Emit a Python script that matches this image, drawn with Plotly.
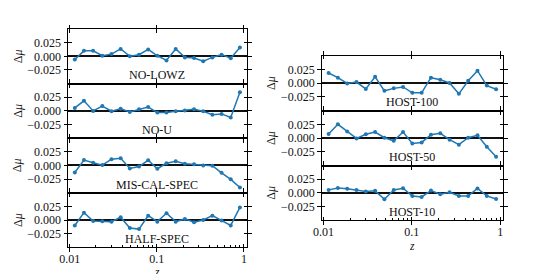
import plotly.graph_objects as go

# ---- data ----
z = [0.01143, 0.01456, 0.01856, 0.02365, 0.03014, 0.03841, 0.04895, 0.06239,
     0.07951, 0.1013, 0.1291, 0.1646, 0.2097, 0.2673, 0.3406, 0.4341, 0.5532,
     0.7050, 0.8984]

no_lowz = [-0.006, 0.010, 0.010, 0.001, 0.004, 0.0135, 0.000, 0.003, 0.0125, 0.001,
           -0.0075, 0.0135, -0.002, -0.003, -0.009, -0.002, 0.003, -0.0035, 0.016]
no_u = [0.0055, 0.0185, 0.000, 0.009, -0.0006, 0.004, -0.002, 0.003, 0.007, -0.003,
        -0.003, -0.0006, 0.0006, 0.003, -0.0006, -0.007, -0.0055, -0.012, 0.034]
mis_cal_spec = [-0.013, 0.010, 0.005, 0.0006, 0.0115, 0.013, -0.0055, -0.002, 0.0095,
                -0.006, 0.004, 0.0075, 0.003, 0.002, 0.000, -0.0005, -0.0135, -0.0255, -0.0405]
half_spec = [-0.010, 0.0135, -0.002, -0.0025, -0.003, 0.005, -0.0148, -0.0167, 0.008,
             -0.003, 0.0123, -0.003, 0.002, -0.004, 0.000, 0.008, -0.001, -0.010, 0.023]
host_100 = [0.0185, 0.010, -0.0005, 0.002, -0.0105, 0.0115, -0.014, -0.0095, -0.007,
            -0.0177, -0.0177, 0.010, 0.0063, 0.0003, -0.0195, 0.0043, 0.0228, -0.0045, -0.011]
host_50 = [0.0075, 0.025, 0.012, -0.0006, 0.007, 0.011, 0.0006, -0.005, 0.011, -0.010,
           -0.008, 0.006, 0.0087, -0.003, -0.012, 0.0006, 0.005, -0.016, -0.034]
host_10 = [0.0055, 0.009, 0.0074, 0.0055, 0.0025, 0.0037, -0.0117, 0.0055, 0.0086,
           -0.0055, -0.0074, 0.0043, -0.0025, 0.0012, -0.0055, -0.0055, 0.008, -0.0055, -0.011]

labels = ["NO-LOWZ", "NO-U", "MIS-CAL-SPEC", "HALF-SPEC", "HOST-100", "HOST-50", "HOST-10"]
series = [no_lowz, no_u, mis_cal_spec, half_spec, host_100, host_50, host_10]

x_tickvals = [0.01, 0.1, 1]
x_ticktext = ["0.01", "0.1", "1"]
x_minorvals = [0.02, 0.03, 0.04, 0.05, 0.06, 0.07, 0.08, 0.09,
               0.2, 0.3, 0.4, 0.5, 0.6, 0.7, 0.8, 0.9]
y_tickvals = [-0.025, 0.0, 0.025]
y_ticktext = ["\u22120.025", "0.000", "0.025"]

# ---- layout geometry ----
W, H = 538, 274
left_x = [68 / W, 247 / W]
right_x = [321.7 / W, 503.3 / W]
left_edges = [29, 83.6, 138.2, 192.7, 247.3]
right_edges = [55.7, 110.6, 165.5, 220.3]


def dom(edges, i):
    return [1 - edges[i + 1] / H, 1 - edges[i] / H]


def sfx(k):
    return "" if k == 1 else str(k)


domains = []
for i in range(4):
    domains.append((left_x, dom(left_edges, i), i == 3))
for i in range(3):
    domains.append((right_x, dom(right_edges, i), i == 2))

XR = [-2.02, 0.035]
YR = [-0.05, 0.05]
FONT = "Liberation Serif"
BLUE = "#1f77b4"
N = len(series)

fig = go.Figure()
layout = dict(
    width=W, height=H, margin=dict(l=0, r=0, t=0, b=0, pad=0, autoexpand=False),
    paper_bgcolor="white", plot_bgcolor="white", showlegend=False,
    font=dict(family=FONT, size=12, color="#111"),
)
annotations = []

for k in range(1, N + 1):
    xd, yd, bottom = domains[k - 1]
    s, so = sfx(k), sfx(k + N)
    fig.add_trace(go.Scatter(
        x=z, y=series[k - 1], mode="lines+markers",
        line=dict(color=BLUE, width=1.5), marker=dict(color=BLUE, size=4),
        xaxis=f"x{s}", yaxis=f"y{s}", hoverinfo="skip"))
    # overlay (inside ticks) subplot
    fig.add_trace(go.Scatter(x=[], y=[], xaxis=f"x{so}", yaxis=f"y{so}",
                             hoverinfo="skip"))
    common_x = dict(type="log", range=XR, showgrid=False, zeroline=False,
                    showline=True, linecolor="black", linewidth=1, automargin=False,
                    tickmode="array", tickvals=x_tickvals, ticktext=x_ticktext,
                    ticklen=3.5, tickwidth=1, tickcolor="black")
    common_y = dict(range=YR, showgrid=False, showline=True, linecolor="black",
                    linewidth=1, automargin=False, tickmode="array",
                    tickvals=y_tickvals, ticktext=y_ticktext, ticklen=3.5,
                    tickwidth=1, tickcolor="black")
    layout[f"xaxis{s}"] = dict(common_x, domain=xd, anchor=f"y{s}", ticks="outside",
                               mirror="ticks", showticklabels=bottom,
                               ticklabelstandoff=-3, tickfont=dict(size=12))
    layout[f"yaxis{s}"] = dict(common_y, domain=yd, anchor=f"x{s}", ticks="outside",
                               mirror="ticks", zeroline=True, zerolinecolor="#111",
                               zerolinewidth=1.7, tickfont=dict(size=12))
    ox = dict(common_x, overlaying=f"x{s}", anchor=f"y{so}", ticks="inside",
              showticklabels=False)
    if bottom:
        ox["mirror"] = False
        ox["minor"] = dict(ticks="inside", ticklen=2, tickwidth=0.8,
                           tickcolor="black", tickmode="array",
                           tickvals=x_minorvals, showgrid=False)
    else:
        ox["mirror"] = "ticks"
    layout[f"xaxis{so}"] = ox
    layout[f"yaxis{so}"] = dict(common_y, overlaying=f"y{s}", anchor=f"x{so}",
                                ticks="inside", mirror="ticks",
                                showticklabels=False, zeroline=False)

    annotations.append(dict(text=labels[k - 1], x=-1, y=-0.035, xref=f"x{s}",
                            yref=f"y{s}", showarrow=False, xanchor="center",
                            yanchor="middle", font=dict(size=12, family=FONT)))
    annotations.append(dict(text="\u0394<i>\u03bc</i>", x=-0.28, y=0.5,
                            xref=f"x{s} domain", yref=f"y{s} domain",
                            showarrow=False, textangle=-90, xanchor="center",
                            yanchor="middle", font=dict(size=12, family=FONT)))
    if bottom:
        annotations.append(dict(text="<i>z</i>", x=0.496, y=-0.46,
                                xref=f"x{s} domain", yref=f"y{s} domain",
                                showarrow=False, xanchor="center", yanchor="middle",
                                font=dict(size=11.5, family=FONT)))

layout["annotations"] = annotations
fig.update_layout(**layout)
fig.write_html("out.html", config={"displayModeBar": False},
               post_script="document.body.style.margin='0';document.body.style.overflow='hidden';")
